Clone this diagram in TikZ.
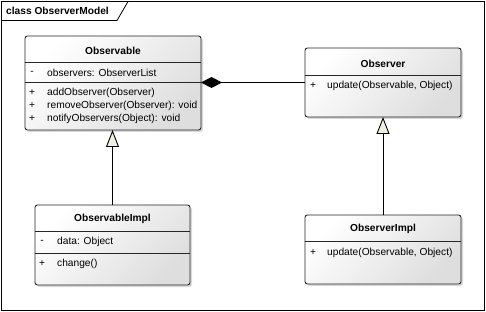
\documentclass[tikz,border=0pt]{standalone}
\usepackage{fontspec}
\setmainfont{Liberation Sans}
\usetikzlibrary{arrows.meta,shadows,calc}
\definecolor{tipfill}{HTML}{F2EEE2}
\begin{document}
\begin{tikzpicture}[x=1pt,y=-1pt,
  umlbox/.style={draw=black!85, line width=0.9pt, rounded corners=2.5pt,
    top color=white, bottom color=black!13, shading angle=45,
    inner sep=0pt, outer sep=0pt,
    drop shadow={shadow xshift=2pt, shadow yshift=-2pt, fill=black!25, opacity=0.6}},
  txt/.style={font=\fontsize{10.2}{12}\selectfont, inner sep=0pt, text=black},
  ttl/.style={font=\fontsize{10.2}{12}\selectfont\bfseries, inner sep=0pt, text=black},
  divider/.style={draw=black!85, line width=0.8pt},
  gen/.style={draw=black, line width=0.9pt, -{Triangle[width=13pt,length=17pt,fill=tipfill]}},
  comp/.style={draw=black, line width=0.9pt, {Diamond[width=11pt,length=21pt]}-}
]
\useasboundingbox (0,0) rectangle (486,312);
% frame
\draw[line width=0.8pt] (1.5,1.5) rectangle (484.5,310.5);
\draw[line width=0.8pt] (1.5,20.5) -- (117,20.5) -- (128,1.5);
\node[ttl, anchor=west] (frametitle) at (6,11) {class ObserverModel};

% Observable
\node[umlbox, minimum width=176pt, minimum height=94pt] (observable) at (113,83) {};
\node[ttl] (observableT) at (113,50.5) {Observable};
\draw[divider] (observable.west |- 0,62) -- (observable.east |- 0,62);
\draw[divider] (observable.west |- 0,82) -- (observable.east |- 0,82);
\node[txt] (oa1m) at (32,72.5) {-};
\node[txt, anchor=west] (oa1) at (47,72.5) {observers: ObserverList};
\node[txt] (oo1m) at (32,93) {+};
\node[txt, anchor=west] (oo1) at (47,93) {addObserver(Observer)};
\node[txt] (oo2m) at (32,106) {+};
\node[txt, anchor=west] (oo2) at (47,106) {removeObserver(Observer): void};
\node[txt] (oo3m) at (32,119) {+};
\node[txt, anchor=west] (oo3) at (47,119) {notifyObservers(Object): void};

% Observer
\node[umlbox, minimum width=156pt, minimum height=69pt] (observer) at (383,82.5) {};
\node[ttl] (observerT) at (383,64) {Observer};
\draw[divider] (observer.west |- 0,75) -- (observer.east |- 0,75);
\node[txt] (ro1m) at (313,85.5) {+};
\node[txt, anchor=west] (ro1) at (327,85.5) {update(Observable, Object)};

% ObservableImpl
\node[umlbox, minimum width=155pt, minimum height=80pt] (observableimpl) at (112.5,245) {};
\node[ttl] (observableimplT) at (112.5,219) {ObservableImpl};
\draw[divider] (observableimpl.west |- 0,231) -- (observableimpl.east |- 0,231);
\draw[divider] (observableimpl.west |- 0,253) -- (observableimpl.east |- 0,253);
\node[txt] (ia1m) at (42,242) {-};
\node[txt, anchor=west] (ia1) at (57,242) {data: Object};
\node[txt] (io1m) at (42,264) {+};
\node[txt, anchor=west] (io1) at (57,264) {change()};

% ObserverImpl
\node[umlbox, minimum width=156pt, minimum height=69pt] (observerimpl) at (383,249.5) {};
\node[ttl] (observerimplT) at (383,229) {ObserverImpl};
\draw[divider] (observerimpl.west |- 0,241) -- (observerimpl.east |- 0,241);
\node[txt] (rio1m) at (313,252.5) {+};
\node[txt, anchor=west] (rio1) at (327,252.5) {update(Observable, Object)};

% connectors
\draw[comp] (observable.east |- 0,82.5) -- (observer.west |- 0,82.5);
\draw[gen] (observableimpl.north) -- (observableimpl.north |- observable.south);
\draw[gen] (observerimpl.north) -- (observer.south);
\end{tikzpicture}
\end{document}
